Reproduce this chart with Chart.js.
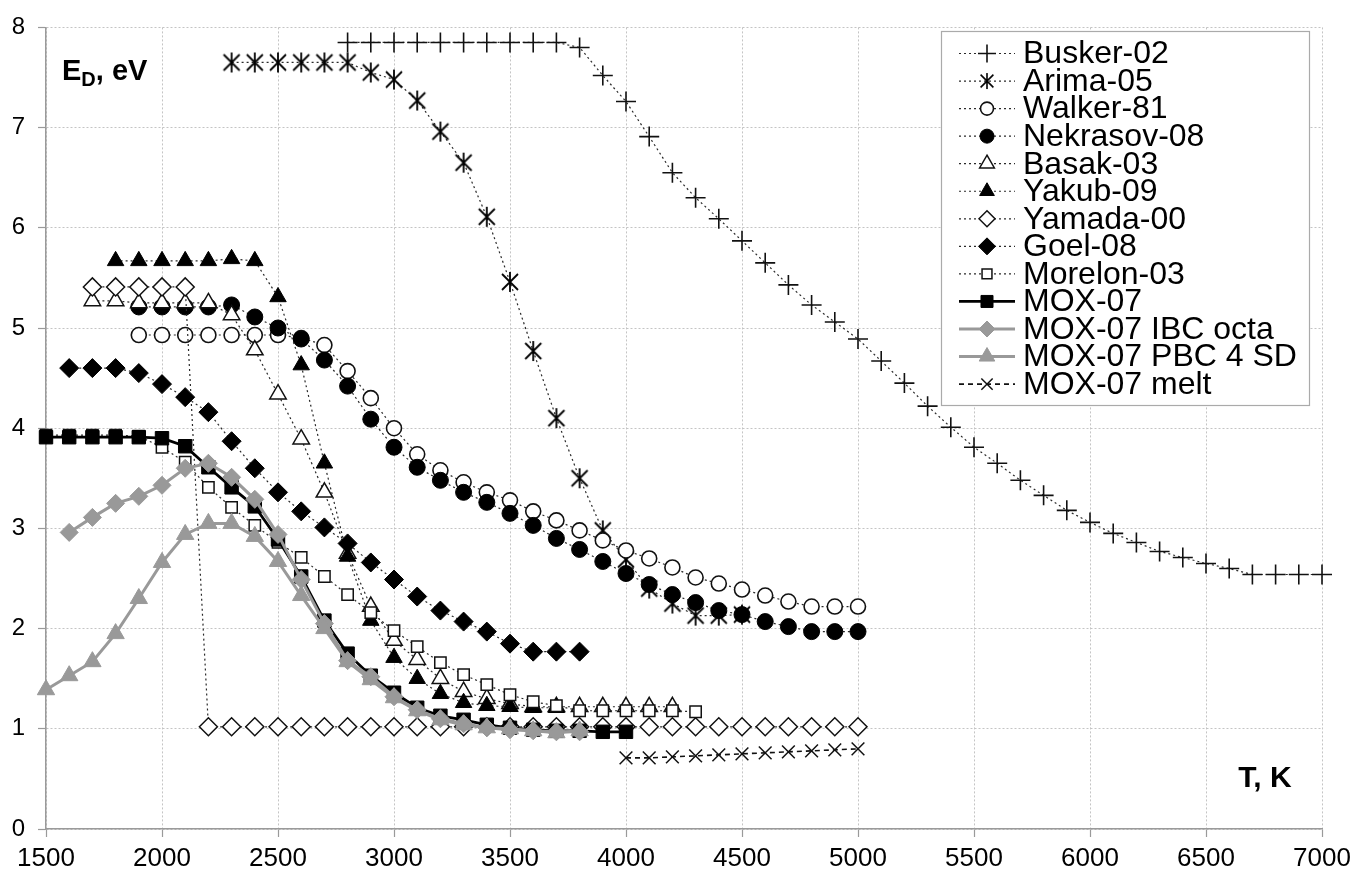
<!DOCTYPE html>
<html><head><meta charset="utf-8">
<script src="https://cdn.jsdelivr.net/npm/chart.js@4.4.1/dist/chart.umd.min.js"></script>
<style>html,body{margin:0;padding:0;background:#fff;overflow:hidden}canvas{display:block}</style>
</head><body><canvas id="c" width="1369" height="885"></canvas>
<script>
// ---- axis ticks ----
const xTickValues = [1500,2000,2500,3000,3500,4000,4500,5000,5500,6000,6500,7000];
const yTickValues = [0,1,2,3,4,5,6,7,8];

// ---- series (T in K, E_D in eV) ----
const seriesNames = ['Busker-02','Arima-05','Walker-81','Nekrasov-08','Basak-03','Yakub-09','Yamada-00','Goel-08','Morelon-03','MOX-07','MOX-07 IBC octa','MOX-07 PBC 4 SD','MOX-07 melt'];

const buskerT = [2800,2900,3000,3100,3200,3300,3400,3500,3600,3700,3800,3900,4000,4100,4200,4300,4400,4500,4600,4700,4800,4900,5000,5100,5200,5300,5400,5500,5600,5700,5800,5900,6000,6100,6200,6300,6400,6500,6600,6700,6800,6900,7000];
const buskerE = [7.85,7.85,7.85,7.85,7.85,7.85,7.85,7.85,7.85,7.85,7.80,7.52,7.26,6.91,6.55,6.30,6.09,5.87,5.65,5.43,5.23,5.06,4.89,4.67,4.45,4.22,4.01,3.81,3.65,3.48,3.33,3.18,3.06,2.95,2.86,2.77,2.71,2.65,2.60,2.54,2.54,2.54,2.54];

const arimaT = [2300,2400,2500,2600,2700,2800,2900,3000,3100,3200,3300,3400,3500,3600,3700,3800,3900,4000,4100,4200,4300,4400,4500];
const arimaE = [7.65,7.65,7.65,7.65,7.65,7.65,7.55,7.48,7.27,6.96,6.65,6.11,5.46,4.77,4.10,3.50,2.98,2.69,2.40,2.25,2.13,2.13,2.14];

const walkerT = [1900,2000,2100,2200,2300,2400,2500,2600,2700,2800,2900,3000,3100,3200,3300,3400,3500,3600,3700,3800,3900,4000,4100,4200,4300,4400,4500,4600,4700,4800,4900,5000];
const walkerE = [4.93,4.93,4.93,4.93,4.93,4.93,4.93,4.90,4.83,4.57,4.30,4.00,3.74,3.58,3.46,3.36,3.28,3.17,3.08,2.98,2.88,2.78,2.70,2.61,2.51,2.45,2.39,2.33,2.27,2.22,2.22,2.22];

const nekrasovT = [1900,2000,2100,2200,2300,2400,2500,2600,2700,2800,2900,3000,3100,3200,3300,3400,3500,3600,3700,3800,3900,4000,4100,4200,4300,4400,4500,4600,4700,4800,4900,5000];
const nekrasovE = [5.21,5.21,5.21,5.21,5.23,5.11,5.00,4.89,4.68,4.42,4.09,3.81,3.61,3.48,3.36,3.26,3.15,3.03,2.90,2.79,2.67,2.55,2.44,2.34,2.26,2.18,2.14,2.07,2.02,1.97,1.97,1.97];

const basakT = [1700,1800,1900,2000,2100,2200,2300,2400,2500,2600,2700,2800,2900,3000,3100,3200,3300,3400,3500,3600,3700,3800,3900,4000,4100,4200];
const basakE = [5.27,5.27,5.25,5.25,5.25,5.25,5.13,4.78,4.34,3.89,3.36,2.75,2.22,1.88,1.69,1.50,1.37,1.30,1.25,1.22,1.22,1.22,1.22,1.22,1.22,1.22];

const yakubT = [1800,1900,2000,2100,2200,2300,2400,2500,2600,2700,2800,2900,3000,3100,3200,3300,3400,3500,3600,3700];
const yakubE = [5.67,5.67,5.67,5.67,5.67,5.69,5.67,5.31,4.63,3.65,2.72,2.08,1.71,1.50,1.35,1.26,1.23,1.22,1.21,1.21];

const yamadaT = [1700,1800,1900,2000,2100,2200,2300,2400,2500,2600,2700,2800,2900,3000,3100,3200,3300,3400,3500,3600,3700,3800,3900,4000,4100,4200,4300,4400,4500,4600,4700,4800,4900,5000];
const yamadaE = [5.41,5.41,5.41,5.41,5.41,1.02,1.02,1.02,1.02,1.02,1.02,1.02,1.02,1.02,1.02,1.02,1.02,1.02,1.02,1.02,1.02,1.02,1.02,1.02,1.02,1.02,1.02,1.02,1.02,1.02,1.02,1.02,1.02,1.02];

const goelT = [1600,1700,1800,1900,2000,2100,2200,2300,2400,2500,2600,2700,2800,2900,3000,3100,3200,3300,3400,3500,3600,3700,3800];
const goelE = [4.60,4.60,4.60,4.55,4.44,4.31,4.16,3.87,3.60,3.36,3.17,3.01,2.85,2.66,2.49,2.32,2.18,2.07,1.97,1.85,1.77,1.77,1.77];

const morelonT = [1500,1600,1700,1800,1900,2000,2100,2200,2300,2400,2500,2600,2700,2800,2900,3000,3100,3200,3300,3400,3500,3600,3700,3800,3900,4000,4100,4200,4300];
const morelonE = [3.93,3.93,3.93,3.93,3.92,3.81,3.66,3.41,3.21,3.03,2.86,2.71,2.52,2.34,2.16,1.98,1.82,1.66,1.54,1.44,1.34,1.27,1.23,1.18,1.18,1.18,1.18,1.18,1.17];

const moxT = [1500,1600,1700,1800,1900,2000,2100,2200,2300,2400,2500,2600,2700,2800,2900,3000,3100,3200,3300,3400,3500,3600,3700,3800,3900,4000];
const moxE = [3.91,3.91,3.91,3.91,3.91,3.90,3.82,3.61,3.41,3.22,2.89,2.52,2.08,1.75,1.53,1.36,1.21,1.13,1.09,1.04,1.01,0.99,0.98,0.98,0.97,0.97];

const ibcT = [1600,1700,1800,1900,2000,2100,2200,2300,2400,2500,2600,2700,2800,2900,3000,3100,3200,3300,3400,3500,3600,3700,3800];
const ibcE = [2.96,3.11,3.25,3.32,3.43,3.60,3.65,3.51,3.29,2.94,2.49,2.05,1.68,1.52,1.32,1.19,1.10,1.05,1.01,0.99,0.98,0.97,0.97];

const pbcT = [1500,1600,1700,1800,1900,2000,2100,2200,2300,2400,2500,2600,2700,2800,2900,3000,3100,3200,3300,3400,3500,3600,3700,3800];
const pbcE = [1.39,1.53,1.67,1.95,2.30,2.66,2.94,3.05,3.05,2.92,2.67,2.33,2.00,1.67,1.49,1.31,1.18,1.09,1.04,1.01,1.00,0.98,0.96,0.98];

const meltT = [4000,4100,4200,4300,4400,4500,4600,4700,4800,4900,5000];
const meltE = [0.71,0.71,0.72,0.73,0.74,0.75,0.76,0.77,0.78,0.79,0.80];

// ---- styles ----
const FONT = '"Liberation Sans", Arial, Helvetica, sans-serif';
const GREY = '#999999';
const DOT = '#2a2a2a';

function asteriskCanvas(size, color, lw) {
  const c = document.createElement('canvas');
  c.width = size; c.height = size;
  const g = c.getContext('2d');
  g.strokeStyle = color; g.lineWidth = lw;
  const m = size / 2, r = size / 2 - 1;
  g.beginPath();
  g.moveTo(m, m - r); g.lineTo(m, m + r);
  const d = r * 0.8;
  g.moveTo(m - d, m - d); g.lineTo(m + d, m + d);
  g.moveTo(m + d, m - d); g.lineTo(m - d, m + d);
  g.stroke();
  return c;
}
const asterBig = asteriskCanvas(22, '#000', 1.8);
const asterSmall = asteriskCanvas(18, '#000', 1.6);

const dotted = {borderColor: DOT, borderWidth: 1.2, borderDash: [2, 3]};
const seriesStyles = [
  Object.assign({pointStyle: 'cross', pointRadius: 10, pointBorderColor: '#111', pointBackgroundColor: '#111', pointBorderWidth: 1.6}, dotted),
  Object.assign({pointStyle: asterBig, lgStyle: asterSmall, pointRadius: 9, pointBorderColor: '#111', pointBackgroundColor: '#111', pointBorderWidth: 1.5}, dotted),
  Object.assign({pointStyle: 'circle', pointRadius: 7.5, pointBorderColor: '#111', pointBackgroundColor: '#fff', pointBorderWidth: 1.6}, dotted),
  Object.assign({pointStyle: 'circle', pointRadius: 8, pointBorderColor: '#000', pointBackgroundColor: '#000', pointBorderWidth: 1}, dotted),
  Object.assign({pointStyle: 'triangle', pointRadius: 9.5, pointBorderColor: '#111', pointBackgroundColor: '#fff', pointBorderWidth: 1.5}, dotted),
  Object.assign({pointStyle: 'triangle', pointRadius: 9.5, pointBorderColor: '#000', pointBackgroundColor: '#000', pointBorderWidth: 1}, dotted),
  Object.assign({pointStyle: 'rectRot', pointRadius: 9, pointBorderColor: '#111', pointBackgroundColor: '#fff', pointBorderWidth: 1.5}, dotted),
  Object.assign({pointStyle: 'rectRot', pointRadius: 9.5, pointBorderColor: '#000', pointBackgroundColor: '#000', pointBorderWidth: 1}, dotted),
  Object.assign({pointStyle: 'rect', pointRadius: 8, pointBorderColor: '#111', pointBackgroundColor: '#fff', pointBorderWidth: 1.5}, dotted),
  {pointStyle: 'rect', pointRadius: 9.5, pointBorderColor: '#000', pointBackgroundColor: '#000', pointBorderWidth: 1, borderColor: '#000', borderWidth: 2.8, borderDash: []},
  {pointStyle: 'rectRot', pointRadius: 9, pointBorderColor: GREY, pointBackgroundColor: GREY, pointBorderWidth: 1, borderColor: GREY, borderWidth: 3, borderDash: []},
  {pointStyle: 'triangle', pointRadius: 10, pointBorderColor: GREY, pointBackgroundColor: GREY, pointBorderWidth: 1, borderColor: GREY, borderWidth: 3, borderDash: []},
  {pointStyle: 'crossRot', pointRadius: 9, pointBorderColor: '#111', pointBackgroundColor: '#111', pointBorderWidth: 1.5, borderColor: '#111', borderWidth: 1.6, borderDash: [5, 4]}
];

const seriesData = [
  [buskerT, buskerE], [arimaT, arimaE], [walkerT, walkerE], [nekrasovT, nekrasovE],
  [basakT, basakE], [yakubT, yakubE], [yamadaT, yamadaE], [goelT, goelE],
  [morelonT, morelonE], [moxT, moxE], [ibcT, ibcE], [pbcT, pbcE], [meltT, meltE]
];

const N = seriesNames.length;
const datasets = seriesNames.map((name, i) => {
  const [T, E] = seriesData[i];
  const st = seriesStyles[i];
  return Object.assign({
    label: name,
    data: T.map((t, k) => ({x: t, y: E[k]})),
    tension: 0,
    fill: false,
    clip: false,
    order: N - i,
    pointHoverRadius: st.pointRadius
  }, st);
});

// ---- plugins ----
const bgPlugin = {
  id: 'bg',
  beforeDraw(chart) {
    const ctx = chart.ctx;
    ctx.save(); ctx.fillStyle = '#fff'; ctx.fillRect(0, 0, chart.width, chart.height); ctx.restore();
  }
};

function drawMarker(ctx, style, x, y, r, fill, stroke, bw) {
  ctx.save();
  if (style instanceof HTMLCanvasElement) {
    ctx.drawImage(style, x - style.width / 2, y - style.height / 2);
    ctx.restore(); return;
  }
  ctx.fillStyle = fill; ctx.strokeStyle = stroke; ctx.lineWidth = bw; ctx.setLineDash([]);
  ctx.beginPath();
  if (style === 'circle') {
    ctx.arc(x, y, r, 0, Math.PI * 2);
    ctx.fill(); ctx.stroke();
  } else if (style === 'triangle') {
    for (let k = 0; k < 3; k++) {
      const a = k * 2 * Math.PI / 3;
      const px = x + Math.sin(a) * r, py = y - Math.cos(a) * r;
      if (k === 0) ctx.moveTo(px, py); else ctx.lineTo(px, py);
    }
    ctx.closePath(); ctx.fill(); ctx.stroke();
  } else if (style === 'rectRot') {
    ctx.moveTo(x, y - r); ctx.lineTo(x + r, y); ctx.lineTo(x, y + r); ctx.lineTo(x - r, y); ctx.closePath();
    ctx.fill(); ctx.stroke();
  } else if (style === 'rect') {
    const s = r * Math.SQRT1_2;
    ctx.rect(x - s, y - s, 2 * s, 2 * s); ctx.fill(); ctx.stroke();
  } else if (style === 'cross') {
    ctx.moveTo(x - r, y); ctx.lineTo(x + r, y); ctx.moveTo(x, y - r); ctx.lineTo(x, y + r); ctx.stroke();
  } else if (style === 'crossRot') {
    const d = r * Math.SQRT1_2;
    ctx.moveTo(x - d, y - d); ctx.lineTo(x + d, y + d); ctx.moveTo(x + d, y - d); ctx.lineTo(x - d, y + d); ctx.stroke();
  }
  ctx.restore();
}

const legendPlugin = {
  id: 'customLegend',
  afterDraw(chart) {
    const ctx = chart.ctx;
    const bx = 941, by = 31, bw = 368, bh = 374;
    ctx.save();
    ctx.fillStyle = '#fff';
    ctx.fillRect(bx, by, bw, bh);
    ctx.strokeStyle = '#aaaaaa'; ctx.lineWidth = 1.2; ctx.setLineDash([]);
    ctx.strokeRect(bx + 0.5, by + 0.5, bw, bh);
    const x0 = 959, x1 = 1015, xm = (x0 + x1) / 2, tx = 1023;
    const y0 = 53.5, pitch = 27.55;
    chart.data.datasets.forEach((ds, i) => {
      const y = y0 + i * pitch;
      ctx.save();
      ctx.strokeStyle = ds.borderColor; ctx.lineWidth = ds.borderWidth;
      ctx.setLineDash(ds.borderDash || []);
      ctx.beginPath(); ctx.moveTo(x0, y); ctx.lineTo(x1, y); ctx.stroke();
      ctx.restore();
      const st = seriesStyles[i];
      drawMarker(ctx, st.lgStyle || st.pointStyle, xm, y, st.pointRadius - 1, st.pointBackgroundColor, st.pointBorderColor, st.pointBorderWidth);
      ctx.fillStyle = '#000';
      ctx.font = '32px ' + FONT;
      ctx.textBaseline = 'middle'; ctx.textAlign = 'left';
      ctx.fillText(ds.label, tx, y + 1);
    });
    ctx.restore();
  }
};

const titlesPlugin = {
  id: 'axisTitles',
  afterDraw(chart) {
    const ctx = chart.ctx;
    ctx.save();
    ctx.fillStyle = '#000';
    ctx.textBaseline = 'alphabetic'; ctx.textAlign = 'left';
    // E_D, eV
    let x = 62;
    ctx.font = 'bold 29px ' + FONT;
    ctx.fillText('E', x, 80); x += ctx.measureText('E').width;
    ctx.font = 'bold 20px ' + FONT;
    ctx.fillText('D', x, 86); x += ctx.measureText('D').width;
    ctx.font = 'bold 29px ' + FONT;
    ctx.fillText(', eV', x, 80);
    // T, K
    ctx.font = 'bold 30px ' + FONT;
    ctx.textAlign = 'center';
    ctx.fillText('T, K', 1265, 787);
    ctx.restore();
  }
};

new Chart(document.getElementById('c'), {
  type: 'line',
  data: {datasets},
  options: {
    responsive: false,
    animation: false,
    devicePixelRatio: 1,
    events: [],
    layout: {padding: {left: 0, right: 47, top: 19, bottom: 0}},
    plugins: {legend: {display: false}, tooltip: {enabled: false}, title: {display: false}},
    scales: {
      x: {
        type: 'linear',
        min: xTickValues[0], max: xTickValues[xTickValues.length - 1],
        afterBuildTicks: s => { s.ticks = xTickValues.map(v => ({value: v})); },
        afterFit: s => { s.height = 56; },
        ticks: {color: '#000', font: {family: FONT, size: 26}, padding: 6, maxRotation: 0, autoSkip: false,
                callback: v => String(v)},
        grid: {color: '#c4c4c4', lineWidth: 1, tickLength: 8, tickColor: '#9a9a9a', tickWidth: 1.2, tickBorderDash: []},
        border: {display: true, color: '#9a9a9a', width: 1.5, dash: [2, 2]}
      },
      y: {
        type: 'linear',
        min: yTickValues[0], max: yTickValues[yTickValues.length - 1],
        afterBuildTicks: s => { s.ticks = yTickValues.map(v => ({value: v})); },
        afterFit: s => { s.width = 46; },
        ticks: {color: '#000', font: {family: FONT, size: 24}, padding: 13, callback: v => String(v)},
        grid: {color: '#c4c4c4', lineWidth: 1, tickLength: 8, tickColor: '#9a9a9a', tickWidth: 1.2, tickBorderDash: []},
        border: {display: true, color: '#9a9a9a', width: 1.5, dash: [2, 2]}
      }
    }
  },
  plugins: [bgPlugin, legendPlugin, titlesPlugin]
});
</script>
</body></html>
